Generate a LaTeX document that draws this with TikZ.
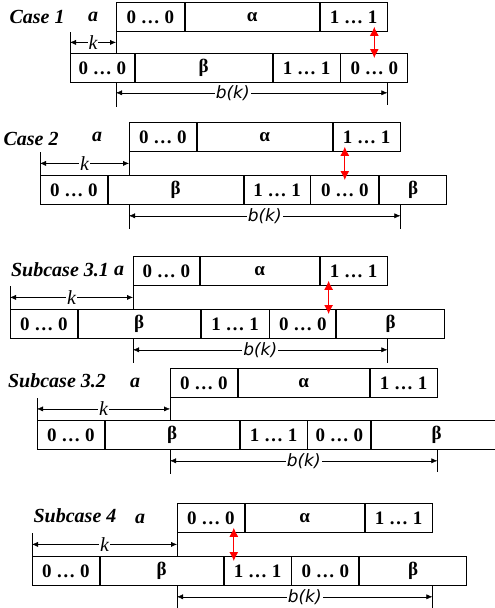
\documentclass[tikz,border=0pt]{standalone}
\usepackage{fontspec}
\setmainfont{Liberation Serif}
\newfontfamily\bkfont{DejaVu Sans}
\usetikzlibrary{arrows.meta, positioning, calc}

\begin{document}
\begin{tikzpicture}[x=1pt,y=-1pt,node distance=0pt,>={Latex[length=6pt,width=5pt]},
  cell/.style={rectangle, draw, line width=0.8pt, minimum height=29pt, inner sep=0pt, font=\fontsize{19}{19}\selectfont\bfseries},
  casename/.style={font=\fontsize{20}{20}\selectfont\bfseries\itshape, inner sep=0pt},
  klabel/.style={font=\fontsize{20}{20}\selectfont\itshape, fill=white, inner sep=1pt},
  blabel/.style={font=\bkfont\itshape\fontsize{17}{17}\selectfont, fill=white, inner sep=1pt},
  tick/.style={line width=0.8pt},
  redarrow/.style={red, line width=1pt, shorten <=-5pt, shorten >=-5pt, {Latex[length=9pt,width=9pt]}-{Latex[length=9pt,width=9pt]}}]
\useasboundingbox (0,0) rectangle (495,608);

% Case 1
\node[casename] (c1name) at (37,17) {Case 1};
\node[casename] (c1a) at (93,17) {a};
\node[cell, minimum width=68pt, anchor=north west] (c1top1) at (116,2) {0 … 0};
\node[cell, minimum width=134pt, right=of c1top1] (c1top2) {α};
\node[cell, minimum width=67pt, right=of c1top2] (c1top3) {1 … 1};
\node[cell, minimum width=64pt, anchor=north west] (c1bot1) at (70,53) {0 … 0};
\node[cell, minimum width=137pt, right=of c1bot1] (c1bot2) {β};
\node[cell, minimum width=67pt, right=of c1bot2] (c1bot3) {1 … 1};
\node[cell, minimum width=67pt, right=of c1bot3] (c1bot4) {0 … 0};

% Case 2
\node[casename] (c2name) at (31,139) {Case 2};
\node[casename] (c2a) at (97,137) {a};
\node[cell, minimum width=67pt, anchor=north west] (c2top1) at (129,122) {0 … 0};
\node[cell, minimum width=135pt, right=of c2top1] (c2top2) {α};
\node[cell, minimum width=67pt, right=of c2top2] (c2top3) {1 … 1};
\node[cell, minimum width=67pt, anchor=north west] (c2bot1) at (40,175) {0 … 0};
\node[cell, minimum width=135pt, right=of c2bot1] (c2bot2) {β};
\node[cell, minimum width=66pt, right=of c2bot2] (c2bot3) {1 … 1};
\node[cell, minimum width=68pt, right=of c2bot3] (c2bot4) {0 … 0};
\node[cell, minimum width=67pt, right=of c2bot4] (c2bot5) {β};

% Subcase 3.1
\node[casename] (c31name) at (60,270) {Subcase 3.1};
\node[casename] (c31a) at (119,271) {a};
\node[cell, minimum width=66pt, anchor=north west] (c31top1) at (133,256) {0 … 0};
\node[cell, minimum width=119pt, right=of c31top1] (c31top2) {α};
\node[cell, minimum width=67pt, right=of c31top2] (c31top3) {1 … 1};
\node[cell, minimum width=67pt, anchor=north west] (c31bot1) at (10,309) {0 … 0};
\node[cell, minimum width=122pt, right=of c31bot1] (c31bot2) {β};
\node[cell, minimum width=68pt, right=of c31bot2] (c31bot3) {1 … 1};
\node[cell, minimum width=66pt, right=of c31bot3] (c31bot4) {0 … 0};
\node[cell, minimum width=108pt, right=of c31bot4] (c31bot5) {β};

% Subcase 3.2
\node[casename] (c32name) at (57,381) {Subcase 3.2};
\node[casename] (c32a) at (135,383) {a};
\node[cell, minimum width=67pt, anchor=north west] (c32top1) at (170,368) {0 … 0};
\node[cell, minimum width=131pt, right=of c32top1] (c32top2) {α};
\node[cell, minimum width=67pt, right=of c32top2] (c32top3) {1 … 1};
\node[cell, minimum width=67pt, anchor=north west] (c32bot1) at (37,420) {0 … 0};
\node[cell, minimum width=134pt, right=of c32bot1] (c32bot2) {β};
\node[cell, minimum width=67pt, right=of c32bot2] (c32bot3) {1 … 1};
\node[cell, minimum width=63pt, right=of c32bot3] (c32bot4) {0 … 0};
\node[cell, minimum width=130pt, right=of c32bot4] (c32bot5) {β};

% Subcase 4
\node[casename] (c4name) at (75,516) {Subcase 4};
\node[casename] (c4a) at (140,519) {a};
\node[cell, minimum width=67pt, anchor=north west] (c4top1) at (177,503) {0 … 0};
\node[cell, minimum width=119pt, right=of c4top1] (c4top2) {α};
\node[cell, minimum width=67pt, right=of c4top2] (c4top3) {1 … 1};
\node[cell, minimum width=67pt, anchor=north west] (c4bot1) at (32,556) {0 … 0};
\node[cell, minimum width=123pt, right=of c4bot1] (c4bot2) {β};
\node[cell, minimum width=67pt, right=of c4bot2] (c4bot3) {1 … 1};
\node[cell, minimum width=67pt, right=of c4bot3] (c4bot4) {0 … 0};
\node[cell, minimum width=107pt, right=of c4bot4] (c4bot5) {β};

% Ticks and k arrows
\draw[tick] (c1bot1.north west) -- (c1bot1.north west |- c1top1.south);
\draw[tick] (c1top1.south west) -- (c1top1.south west |- c1bot1.north) coordinate[midway] (c1kr);
\draw[<->] (c1kr -| c1bot1.west) -- node[klabel] {k} (c1kr);

\draw[tick] (c2bot1.north west) -- (c2bot1.north west |- c2top1.south);
\draw[tick] (c2top1.south west) -- (c2top1.south west |- c2bot1.north) coordinate[midway] (c2kr);
\draw[<->] (c2kr -| c2bot1.west) -- node[klabel] {k} (c2kr);

\draw[tick] (c31bot1.north west) -- (c31bot1.north west |- c31top1.south);
\draw[tick] (c31top1.south west) -- (c31top1.south west |- c31bot1.north) coordinate[midway] (c31kr);
\draw[<->] (c31kr -| c31bot1.west) -- node[klabel] {k} (c31kr);

\draw[tick] (c32bot1.north west) -- (c32bot1.north west |- c32top1.south);
\draw[tick] (c32top1.south west) -- (c32top1.south west |- c32bot1.north) coordinate[midway] (c32kr);
\draw[<->] (c32kr -| c32bot1.west) -- node[klabel] {k} (c32kr);

\draw[tick] (c4bot1.north west) -- (c4bot1.north west |- c4top1.south);
\draw[tick] (c4top1.south west) -- (c4top1.south west |- c4bot1.north) coordinate[midway] (c4kr);
\draw[<->] (c4kr -| c4bot1.west) -- node[klabel] {k} (c4kr);

% b(k) arrows
\coordinate (c1bl) at ($(c1top1.south west |- c1bot1.south)+(0,10)$);
\coordinate (c1br) at (c1top3.east |- c1bl);
\draw[tick] (c1top1.south west |- c1bot1.south) -- ++(0,24);
\draw[tick] (c1top3.east |- c1bot1.south) -- ++(0,22);
\draw[<->] (c1bl) -- node[blabel, pos=0.43] {b(k)} (c1br);

\coordinate (c2bl) at ($(c2top1.south west |- c2bot1.south)+(0,11)$);
\coordinate (c2br) at (c2top3.east |- c2bl);
\draw[tick] (c2top1.south west |- c2bot1.south) -- ++(0,24);
\draw[tick] (c2top3.east |- c2bot1.south) -- ++(0,24);
\draw[<->] (c2bl) -- node[blabel] {b(k)} (c2br);

\coordinate (c31bl) at ($(c31top1.south west |- c31bot1.south)+(0,11)$);
\coordinate (c31br) at (c31top3.east |- c31bl);
\draw[tick] (c31top1.south west |- c31bot1.south) -- ++(0,24);
\draw[tick] (c31top3.east |- c31bot1.south) -- ++(0,24);
\draw[<->] (c31bl) -- node[blabel] {b(k)} (c31br);

\coordinate (c32bl) at ($(c32top1.south west |- c32bot1.south)+(0,11)$);
\coordinate (c32br) at (c32top3.east |- c32bl);
\draw[tick] (c32top1.south west |- c32bot1.south) -- ++(0,24);
\draw[tick] (c32top3.east |- c32bot1.south) -- ++(0,22);
\draw[<->] (c32bl) -- node[blabel] {b(k)} (c32br);

\coordinate (c4bl) at ($(c4top1.south west |- c4bot1.south)+(0,11)$);
\coordinate (c4br) at (c4top3.east |- c4bl);
\draw[tick] (c4top1.south west |- c4bot1.south) -- ++(0,24);
\draw[tick] (c4top3.east |- c4bot1.south) -- ++(0,24);
\draw[<->] (c4bl) -- node[blabel] {b(k)} (c4br);

% Red arrows
\draw[redarrow] (c1bot4.north |- c1top3.south) -- (c1bot4.north);
\draw[redarrow] (c2bot4.north |- c2top3.south) -- (c2bot4.north);
\coordinate (c31r) at ($(c31top3.south west)+(9,0)$);
\draw[redarrow] (c31r) -- (c31r |- c31bot4.north);
\coordinate (c4r) at ($(c4top1.south east)+(-11,0)$);
\draw[redarrow] (c4r) -- (c4r |- c4bot3.north);
\end{tikzpicture}
\end{document}
